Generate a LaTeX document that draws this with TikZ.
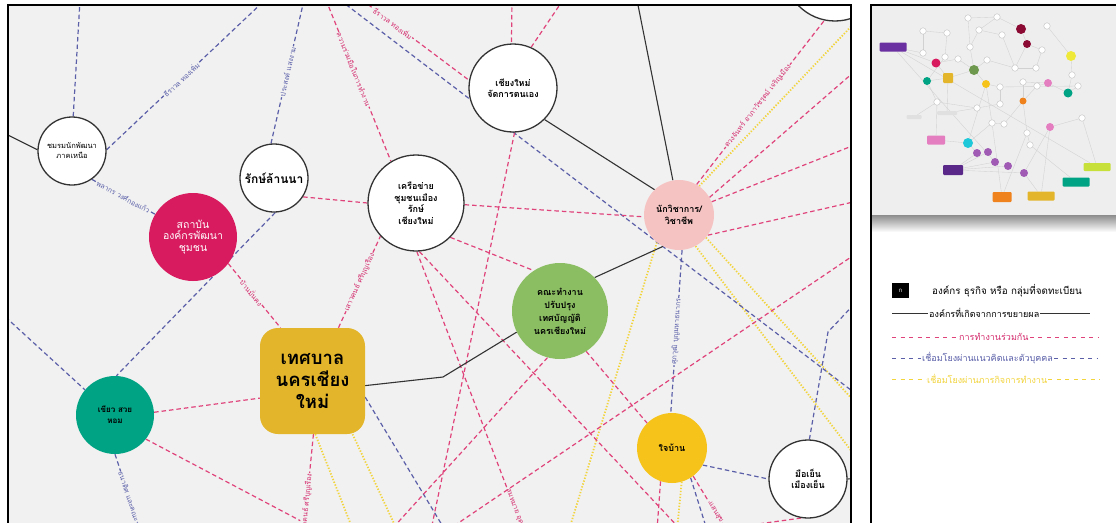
\documentclass[tikz,border=0pt]{standalone}
\usepackage{fontspec}
\newfontfamily\thai[Script=Thai]{Loma}
\definecolor{bgc}{HTML}{F1F1F1}
\definecolor{thumbc}{HTML}{EEEEEE}
\definecolor{pkc}{HTML}{E0437A}
\definecolor{pktx}{HTML}{D42A6C}
\definecolor{blc}{HTML}{5A5FA8}
\definecolor{ylc}{HTML}{F2D43C}
\definecolor{magc}{HTML}{D81B5E}
\definecolor{tealc}{HTML}{00A383}
\definecolor{goldc}{HTML}{E3B52B}
\definecolor{greenc}{HTML}{8BBE63}
\definecolor{pinkc}{HTML}{F6C3C3}
\definecolor{yelc}{HTML}{F5C31A}
\definecolor{purc}{HTML}{6A2FA0}
\definecolor{purlc}{HTML}{A05BB5}
\definecolor{maroonc}{HTML}{8B0A33}
\definecolor{lemonc}{HTML}{EFEA3A}
\definecolor{pinklc}{HTML}{E57EC0}
\definecolor{orangec}{HTML}{F0821E}
\definecolor{cyanc}{HTML}{1EC8D8}
\definecolor{limec}{HTML}{C8E03A}
\pgfdeclarelayer{bgl}
\pgfdeclarelayer{edges}
\pgfdeclarelayer{fgl}
\pgfsetlayers{bgl,edges,main,fgl}
\tikzset{
  circ/.style={circle, draw=black!80, line width=1.3pt, fill=white, inner sep=0pt, align=center, font=\thai\bfseries\fontsize{9}{11.5}\selectfont},
  fcirc/.style={circle, draw=none, inner sep=0pt, align=center, font=\thai\bfseries\fontsize{9}{11.5}\selectfont},
  pk/.style={draw=pkc, line width=1.2pt, dash pattern=on 4.5pt off 3pt},
  bl/.style={draw=blc, line width=1.2pt, dash pattern=on 4.5pt off 3pt},
  yl/.style={draw=ylc, line width=1.8pt, dash pattern=on 1.3pt off 1.7pt},
  blk/.style={draw=black!80, line width=1.1pt},
  lab/.style={font=\thai\fontsize{7}{8}\selectfont, fill=bgc, inner sep=0.6pt, sloped},
  pklab/.style={lab, text=pktx},
  bllab/.style={lab, text=blc},
  tw/.style={circle, draw=black!30, fill=white, minimum size=6.5pt, inner sep=0pt, line width=0.3pt},
  tc/.style={circle, draw=none, inner sep=0pt},
  tr/.style={rectangle, rounded corners=1pt, draw=none, inner sep=0pt},
  tl/.style={draw=black!18, line width=0.35pt},
  legtx/.style={anchor=west, inner sep=1pt, font=\thai\fontsize{9}{10}\selectfont},
}
\begin{document}
\begin{tikzpicture}[x=1pt,y=-1pt]
\useasboundingbox (0,0) rectangle (1116,522);
\begin{pgfonlayer}{bgl}
  \fill[white] (0,0) rectangle (1116,522);
  \fill[bgc] (8,5) rectangle (851,540);
  \fill[thumbc] (871,5) rectangle (1116,215);
  \shade[top color=black!45, bottom color=white] (871,215) rectangle (1116,232);
\end{pgfonlayer}

% ---------- main nodes ----------
\node[circ, minimum size=68pt, font=\thai\fontsize{7.5}{10}\selectfont] (chom) at (72,151) {ชมรมนักพัฒนา\\ภาคเหนือ};
\node[circ, minimum size=68pt, font=\thai\bfseries\fontsize{12}{13}\selectfont] (rak) at (274,178) {รักษ์ล้านนา};
\node[fcirc, fill=magc, minimum size=88pt, text=white, font=\thai\fontsize{10.5}{11.5}\selectfont] (sthaban) at (193,237) {สถาบัน\\องค์กรพัฒนา\\ชุมชน};
\node[circ, minimum size=96pt] (khrue) at (416,203) {เครือข่าย\\ชุมชนเมือง\\รักษ์\\เชียงใหม่};
\node[circ, minimum size=88pt] (cmjk) at (513,88) {เชียงใหม่\\จัดการตนเอง};
\node[fcirc, fill=pinkc, minimum size=70pt] (nakwi) at (679,215) {นักวิชาการ/\\วิชาชีพ};
\node[fcirc, fill=greenc, minimum size=96pt, font=\thai\bfseries\fontsize{9}{13}\selectfont] (khana) at (560,311) {คณะทำงาน\\ปรับปรุง\\เทศบัญญัติ\\นครเชียงใหม่};
\node[rectangle, rounded corners=18pt, fill=goldc, minimum width=105pt, minimum height=106pt, inner sep=0pt, align=center, font=\thai\bfseries\fontsize{18.5}{22}\selectfont] (tes) at (312.5,381) {เทศบาล\\นครเชียง\\ใหม่};
\node[fcirc, fill=tealc, minimum size=78pt, font=\thai\bfseries\fontsize{8}{11}\selectfont] (khiao) at (115,415) {เขียว สวย\\หอม};
\node[fcirc, fill=yelc, minimum size=70pt] (jaiban) at (672,448) {ใจบ้าน};
\node[circ, minimum size=78pt] (mue) at (808,479) {มือเย็น\\เมืองเย็น};
\begin{scope}
  \clip (8,5) rectangle (851,540);
  \node[circ, minimum size=102pt] (topc) at (835,-30) {};
\end{scope}

% ---------- free ends ----------
\coordinate (k1) at (0,131);
\coordinate (k3) at (637,0);
\coordinate (kb) at (443,377);
\coordinate (k6) at (862,478);
\coordinate (b1) at (80,0);
\coordinate (b2) at (265,0);
\coordinate (b3) at (304,0);
\coordinate (b6) at (0,312);
\coordinate (b7) at (140,530);
\coordinate (b8) at (445,530);
\coordinate (b9a) at (340,0);
\coordinate (b9b) at (860,397);
\coordinate (b12) at (707,530);
\coordinate (b13a) at (828,332);
\coordinate (b13b) at (860,298);
\coordinate (p2) at (326,0);
\coordinate (p3) at (362,0);
\coordinate (p4) at (512,0);
\coordinate (p5) at (563,0);
\coordinate (p6) at (431,530);
\coordinate (p9) at (523,530);
\coordinate (p10) at (681,530);
\coordinate (p11) at (391,530);
\coordinate (p13a) at (448,530);
\coordinate (p13b) at (857,253);
\coordinate (p14) at (318,530);
\coordinate (p18) at (304,530);
\coordinate (p19b) at (862,65);
\coordinate (p19c) at (862,142);
\coordinate (p19d) at (862,200);
\coordinate (p20) at (657,530);
\coordinate (p21) at (726,530);
\coordinate (p22) at (700,532);
\coordinate (y1) at (353,530);
\coordinate (y2) at (397,530);
\coordinate (y3) at (569,530);
\coordinate (y4) at (862,465);
\coordinate (y5) at (862,410);
\coordinate (y6) at (862,15);
\coordinate (y7) at (677,530);

% ---------- connectors ----------
\begin{pgfonlayer}{edges}
\begin{scope}
\clip (8,5) rectangle (851,540);
% yellow
\draw[yl] (nakwi.55) -- (y6);
\draw[yl] (tes.-87) -- (y1);
\draw[yl] (tes.-53) -- (y2);
\draw[yl] (nakwi.-129) -- (y3);
\draw[yl] (nakwi.-62) -- (y4);
\draw[yl] (nakwi.-40) -- (y5);
\draw[yl] (jaiban.-74) -- (y7);
% blue
\draw[bl] (chom.88) -- (b1);
\draw[bl] (chom.2) -- node[bllab, pos=.47] {ธีราวล ทองเพิ่ม} (b2);
\draw[bl] (rak.95) -- node[bllab, pos=.5] {ประสงค์ แสงงาม} (b3);
\draw[bl] (rak.-88) -- (khiao.88);
\draw[bl] (chom.-55) -- node[bllab, pos=.5] {พลากร วงศ์กองแก้ว} (sthaban.149);
\draw[bl] (b6) -- (khiao.140);
\draw[bl] (khiao.-90) -- node[bllab, pos=.22, anchor=west] {ธนาดิศ และคณะ} (b7);
\draw[bl] (tes.-17) -- (b8);
\draw[bl] (b9a) -- (b9b);
\draw[bl] (nakwi.-85) -- node[bllab, pos=.5] {ศุภวุฒิ บุญมหาธนากร} (jaiban.92);
\draw[bl] (jaiban.-29) -- (mue.180);
\draw[bl] (jaiban.-58) -- (b12);
\draw[bl] (mue.88) -- (b13a) -- (b13b);
% pink
\draw[pk] (rak.-33) -- (khrue.180);
\draw[pk] (p2) -- node[pklab, pos=.43] {ความร่วมมือในการทำงาน} (khrue.121);
\draw[pk] (p3) -- node[pklab, pos=.29] {ธีราวล ทองเพิ่ม} (cmjk.170);
\draw[pk] (p4) -- (cmjk.92);
\draw[pk] (p5) -- (cmjk.66);
\draw[pk] (cmjk.-88) -- (p6);
\draw[pk] (khrue.-2) -- (nakwi.183);
\draw[pk] (khrue.-45) -- (khana.123);
\draw[pk] (khrue.-89) -- node[pklab, pos=.85, anchor=west] {สมหมาย อุดม} (p9);
\draw[pk] (khrue.-86) -- (p10);
\draw[pk] (khana.-105) -- (p11);
\draw[pk] (khana.-57) -- (jaiban.135);
\draw[pk] (p13a) -- (p13b);
\draw[pk] (khiao.-38) -- (p14);
\draw[pk] (khiao.4) -- (tes.198);
\draw[pk] (sthaban.-37) -- node[pklab, pos=.45] {บ้านมั่นคง} (tes.121.5);
\draw[pk] (tes.64) -- node[pklab, pos=.5] {เสาวคนธ์ ศรีบุญเรือง} (khrue.223);
\draw[pk] (tes.-89) -- node[pklab, pos=.4, anchor=east] {เสาวคนธ์ ศรีบุญเรือง} (p18);
\draw[pk] (nakwi.60) -- node[pklab, pos=.48] {ดวงจันทร์ อาภาวัชรุตม์ เจริญเมือง} (topc.-102);
\draw[pk] (nakwi.30) -- (p19b);
\draw[pk] (nakwi.22) -- (p19c);
\draw[pk] (nakwi.-35) -- (p19d);
\draw[pk] (jaiban.-109) -- (p20);
\draw[pk] (jaiban.-53) -- node[pklab, pos=.48, anchor=west] {แสนสุข} (p21);
\draw[pk] (mue.-100) -- (p22);
% black
\draw[blk] (chom.178) -- (k1);
\draw[blk] (cmjk.-45) -- (nakwi.134);
\draw[blk] (k3) -- (nakwi.100);
\draw[blk] (nakwi.-117) -- (khana.44);
\draw[blk] (tes.-5) -- (kb) -- (khana.206);
\draw[blk] (mue.0) -- (k6);
\end{scope}
\end{pgfonlayer}

% ---------- thumbnail ----------
\foreach \x/\y [count=\i] in {923/31, 947/33, 968/18, 997/17, 1047/26, 979/30, 1002/35, 923/53, 945/57, 958/59, 970/47, 987/60, 1015/68, 1036/68, 1042/50, 1072/75, 1078/86, 1000/87, 1023/82, 1037/86, 937/102, 977/108, 1000/104, 992/123, 1004/124, 1027/133, 1030/145, 1082/118}
  \node[tw] (w\i) at (\x,\y) {};
\node[tr, fill=purc, minimum width=27pt, minimum height=9pt] (tP) at (893,47) {};
\node[tc, fill=magc, minimum size=9pt] (tM) at (936,63) {};
\node[tc, fill=tealc, minimum size=8pt] (tT) at (927,81) {};
\node[tr, fill=goldc, minimum width=10pt, minimum height=10pt] (tG) at (948,78) {};
\node[tc, fill=greenc!80!black, minimum size=10pt] (tGr) at (974,70) {};
\node[tc, fill=yelc, minimum size=8pt] (tY) at (986,84) {};
\node[tc, fill=maroonc, minimum size=10pt] (tD1) at (1021,29) {};
\node[tc, fill=maroonc, minimum size=8pt] (tD2) at (1027,44) {};
\node[tc, fill=lemonc, minimum size=10pt] (tL) at (1071,56) {};
\node[tc, fill=pinklc, minimum size=8pt] (tPk) at (1048,83) {};
\node[tc, fill=tealc, minimum size=9pt] (tT2) at (1068,93) {};
\node[tc, fill=orangec, minimum size=7pt] (tO) at (1023,101) {};
\node[tc, fill=pinklc, minimum size=8pt] (tPk2) at (1050,127) {};
\node[tr, fill=pinklc, minimum width=18pt, minimum height=9pt] (tPr) at (936,140) {};
\node[tc, fill=cyanc, minimum size=10pt] (tC) at (968,143) {};
\node[tc, fill=purlc, minimum size=8pt] (q1) at (977,153) {};
\node[tc, fill=purlc, minimum size=8pt] (q2) at (988,152) {};
\node[tc, fill=purlc, minimum size=8pt] (q3) at (995,162) {};
\node[tc, fill=purlc, minimum size=8pt] (q4) at (1008,166) {};
\node[tc, fill=purlc, minimum size=8pt] (q5) at (1024,173) {};
\node[tr, fill=purc!85!black, minimum width=20pt, minimum height=10pt] (tPu) at (953,170) {};
\node[tr, fill=limec, minimum width=27pt, minimum height=8pt] (tLi) at (1097,167) {};
\node[tr, fill=tealc, minimum width=27pt, minimum height=9pt] (tTe) at (1076,182) {};
\node[tr, fill=orangec, minimum width=19pt, minimum height=10pt] (tOr) at (1002,197) {};
\node[tr, fill=goldc, minimum width=27pt, minimum height=9pt] (tGo) at (1041,196) {};
\node[tr, fill=black!12, minimum width=15pt, minimum height=4pt] (tg1) at (914,117) {};
\node[tr, fill=black!12, minimum width=20pt, minimum height=4pt] (tg2) at (947,113) {};
\begin{pgfonlayer}{edges}
\foreach \a/\b in {tP/tM, tP/w8, tP/q3, tM/tG, tM/w10, tT/tG, tG/tGr, tGr/w11, tGr/tY, tGr/w12, tY/w18, tY/tC, w11/w6, w6/w4, w4/tD1, tD1/tD2, tD2/w15, w15/w14, w14/w13, w13/w12, w7/w13, w3/w11, w5/tL, tL/w16, w16/tT2, tPk/w20, tPk/tT2, tO/w19, tO/w26, w18/w23, w23/w22, w22/w21, w21/tPr, tPr/tC, tC/q1, tPu/q1, tPu/q2, tPu/q3, tPu/q4, tPu/q5, q5/tGo, tGo/tPk2, tPk2/w28, w28/tLi, tTe/w27, w27/w26, w26/tOr, tOr/w24, w24/w25, w25/tO, w2/w9, w1/w8, w10/tGr, tT/w21, w9/tT, w17/tT2, w20/tO, tY/w24, w19/tPk, tD2/w13, tg1/w21, tg2/w22, tP/tLi, w1/w2, w6/w7, w3/w4, tG/tg2, q5/tPk2, tC/w24, w18/w17}
  \draw[tl] (\a) -- (\b);
\end{pgfonlayer}

% ---------- legend ----------
\node[fill=black, minimum width=17pt, minimum height=15pt, inner sep=0pt, text=white, font=\thai\fontsize{6}{6}\selectfont] (lsq) at (900.5,290.5) {ก};
\node[legtx, font=\thai\fontsize{9.8}{10}\selectfont] (l1) at (931,291) {องค์กร ธุรกิจ หรือ กลุ่มที่จดทะเบียน};
\node[legtx] (l2) at (928,313) {องค์กรที่เกิดจากการขยายผล};
\coordinate (l2a) at (892,313);
\coordinate (l2b) at (1090,313);
\draw[black!80, line width=0.9pt] (l2a) -- (l2.west);
\draw[black!80, line width=0.9pt] (l2.east) -- (l2b);
\node[legtx, text=pktx] (l3) at (958,337) {การทำงานร่วมกัน};
\coordinate (l3a) at (892,337);
\coordinate (l3b) at (1098,337);
\draw[pkc, line width=1pt, dash pattern=on 4pt off 4.5pt] (l3a) -- (l3.west);
\draw[pkc, line width=1pt, dash pattern=on 4pt off 4.5pt] (l3.east) -- (l3b);
\node[legtx, text=blc] (l4) at (921,358) {เชื่อมโยงผ่านแนวคิดและตัวบุคคล};
\coordinate (l4a) at (892,358);
\coordinate (l4b) at (1098,358);
\draw[blc, line width=1pt, dash pattern=on 4pt off 4.5pt] (l4a) -- (l4.west);
\draw[blc, line width=1pt, dash pattern=on 4pt off 4.5pt] (l4.east) -- (l4b);
\node[legtx, text=ylc] (l5) at (926,379) {เชื่อมโยงผ่านภารกิจการทำงาน};
\coordinate (l5a) at (892,379);
\coordinate (l5b) at (1100,379);
\draw[ylc, line width=1pt, dash pattern=on 4pt off 4.5pt] (l5a) -- (l5.west);
\draw[ylc, line width=1pt, dash pattern=on 4pt off 4.5pt] (l5.east) -- (l5b);

% ---------- frames ----------
\begin{pgfonlayer}{fgl}
  \draw[black, line width=1.8pt] (8,540) -- (8,5) -- (851,5) -- (851,540);
  \draw[black, line width=1.6pt] (871,540) -- (871,5) -- (1120,5);
\end{pgfonlayer}
\end{tikzpicture}
\end{document}
